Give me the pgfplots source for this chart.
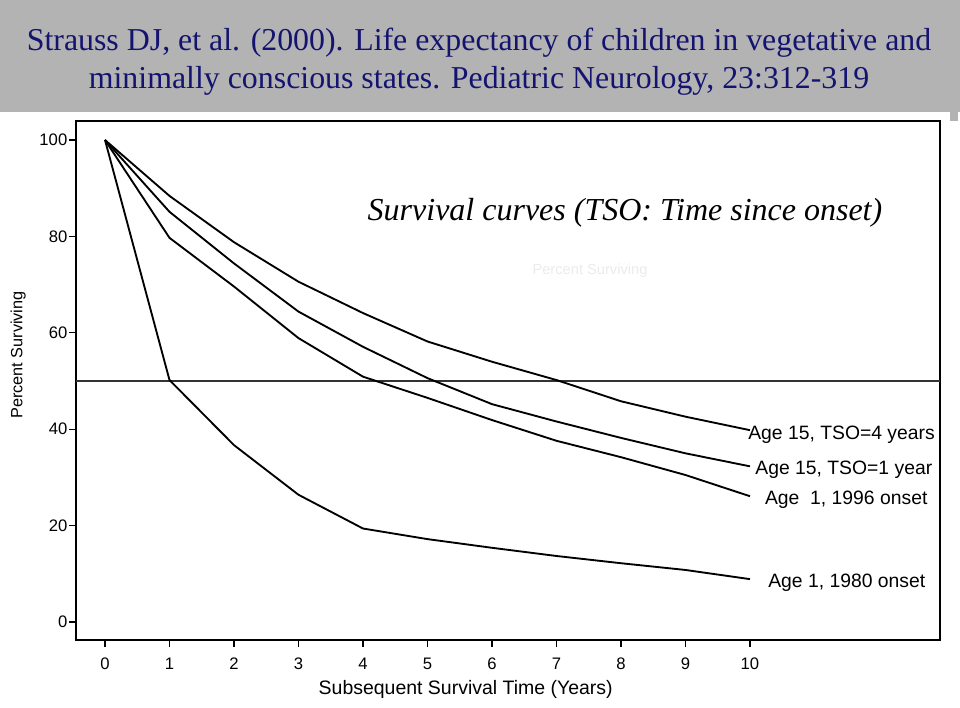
\documentclass[border=0pt]{standalone}
\usepackage{pgfplots}
\pgfplotsset{compat=1.18}
\usepackage{fontspec}
\setmainfont{Liberation Sans}
\newfontfamily\timesfont{Liberation Serif}
\definecolor{band}{HTML}{B3B3B3}
\definecolor{navy}{HTML}{141470}
\begin{document}
\begin{tikzpicture}[x=0.75pt,y=-0.75pt]
\useasboundingbox (0,0) rectangle (960,707);
\fill[band] (0,0) rectangle (960,112);
\fill[band] (950,112) rectangle (958,121);
\node[navy, font=\timesfont\fontsize{23.9}{26}\selectfont, inner sep=0] at (479,43) {Strauss DJ, et al. (2000). Life expectancy of children in vegetative and};
\node[navy, font=\timesfont\fontsize{23.9}{26}\selectfont, inner sep=0] at (479,81) {minimally conscious states. Pediatric Neurology, 23:312-319};
\begin{axis}[
  at={(57pt,-480pt)}, anchor=south west,
  width=648pt, height=389.25pt, scale only axis,
  xmin=-0.4496, xmax=12.946, ymin=-3.73, ymax=103.94,
  axis line style={line width=2pt},
  tick align=outside, xtick pos=left, ytick pos=left,
  major tick length=5pt,
  tick style={black, line width=0.8pt},
  xtick={0,1,...,10}, ytick={0,20,...,100},
  /pgf/number format/assume math mode=true,
  tick label style={font=\fontsize{12.5}{12.5}\selectfont},
  xticklabel style={yshift=-5pt},
  yticklabel style={xshift=2pt},
  xlabel={Subsequent Survival Time (Years)},
  ylabel={Percent Surviving},
  xlabel style={font=\fontsize{14.6}{15}\selectfont, at={(axis description cs:0.451,-0.096)}, anchor=center},
  ylabel style={font=\fontsize{12.2}{13}\selectfont, at={(axis description cs:-0.067,0.549)}, anchor=center, rotate=0},
  clip=false,
]
\addplot[black!80, line width=0.8pt] coordinates {(-0.4496,50) (12.946,50)};
\addplot[black, line width=1.4pt] coordinates {(0,100)(1,88.4)(2,78.8)(3,70.6)(4,64.1)(5,58.2)(6,54)(7,50.2)(8,45.8)(9,42.6)(10,39.8)};
\addplot[black, line width=1.4pt] coordinates {(0,100)(1,85.1)(2,74.4)(3,64.4)(4,57.1)(5,50.6)(6,45.2)(7,41.6)(8,38.2)(9,35)(10,32.3)};
\addplot[black, line width=1.4pt] coordinates {(0,100)(1,79.7)(2,69.6)(3,58.9)(4,50.9)(5,46.5)(6,41.9)(7,37.6)(8,34.2)(9,30.5)(10,26.1)};
\addplot[black, line width=1.4pt] coordinates {(0,100)(1,50.2)(2,36.7)(3,26.4)(4,19.4)(5,17.2)(6,15.4)(7,13.7)(8,12.2)(9,10.8)(10,8.9)};
\node[anchor=west, inner sep=0, font=\fontsize{14.5}{14.5}\selectfont] at (axis cs:9.97,38.9) {Age 15, TSO=4 years};
\node[anchor=west, inner sep=0, font=\fontsize{14.5}{14.5}\selectfont] at (axis cs:10.08,31.6) {Age 15, TSO=1 year};
\node[anchor=west, inner sep=0, font=\fontsize{14.5}{14.5}\selectfont] at (axis cs:10.23,25.4) {Age\ \ 1, 1996 onset};
\node[anchor=west, inner sep=0, font=\fontsize{14.5}{14.5}\selectfont] at (axis cs:10.28,8.2) {Age 1, 1980 onset};
\end{axis}
\node[font=\timesfont\itshape\fontsize{24}{26}\selectfont, inner sep=0] at (625,213) {Survival curves (TSO: Time since onset)};
\node[black!8, font=\fontsize{11}{11}\selectfont, inner sep=0] at (590,271) {Percent Surviving};
\end{tikzpicture}
\end{document}
